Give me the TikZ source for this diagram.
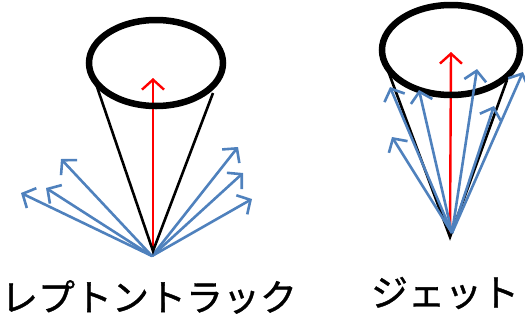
\documentclass[tikz,border=0pt]{standalone}
\usepackage{fontspec}
\newfontfamily\jpfont[FakeBold=1]{Noto Sans CJK JP}
\usetikzlibrary{arrows.meta}
\definecolor{trkblue}{RGB}{79,129,189}

\begin{document}
\begin{tikzpicture}[x=1pt, y=-1pt, >={Straight Barb[length=10pt,width=22pt]}, rim/.style={line width=6.5pt}, side/.style={line width=2.6pt}, axis/.style={->,draw=red,line width=2.4pt}, trk/.style={->,draw=trkblue,line width=2.6pt}, lbl/.style={font=\jpfont\fontsize{37}{40}\selectfont,inner sep=0pt}]
\useasboundingbox (0,0) rectangle (525,322);
% lepton track
\coordinate (lc) at (156,63);
\coordinate (la) at (153,251);
\coordinate (lo) at (152,256);
\coordinate (lrl) at (95,81); \coordinate (lrr) at (213,93);
\coordinate (lax) at (153,78);
\coordinate (lt1) at (21,193); \coordinate (lt2) at (46,188); \coordinate (lt3) at (61,159);
\coordinate (lt4) at (238,147); \coordinate (lt5) at (243,173); \coordinate (lt6) at (252,199);
\foreach \n in {1,...,6} \draw[trk] (lo) -- (lt\n);
\draw[axis] (la) -- (lax);
\draw[side] (lrl) -- (la) -- (lrr);
\draw[rim] (lc) ellipse [x radius=67pt, y radius=43pt];
\node[lbl] (ltxt) at (149,297) {レプトントラック};
% jet
\coordinate (jc) at (451,50);
\coordinate (ja) at (450,237);
\coordinate (jo) at (452,233);
\coordinate (jrl) at (387,68); \coordinate (jrr) at (507,80);
\coordinate (jax) at (451,52);
\coordinate (jt1) at (390,87); \coordinate (jt2) at (392,137); \coordinate (jt3) at (419,90);
\coordinate (jt4) at (477,69); \coordinate (jt5) at (494,106); \coordinate (jt6) at (523,72);
\draw[axis] (ja) -- (jax);
\draw[side] (jrl) -- (ja) -- (jrr);
\draw[rim] (jc) ellipse [x radius=69pt, y radius=45pt];
\foreach \n in {1,...,6} \draw[trk] (jo) -- (jt\n);
\node[lbl] (jtxt) at (445,293) {ジェット};
\end{tikzpicture}
\end{document}
